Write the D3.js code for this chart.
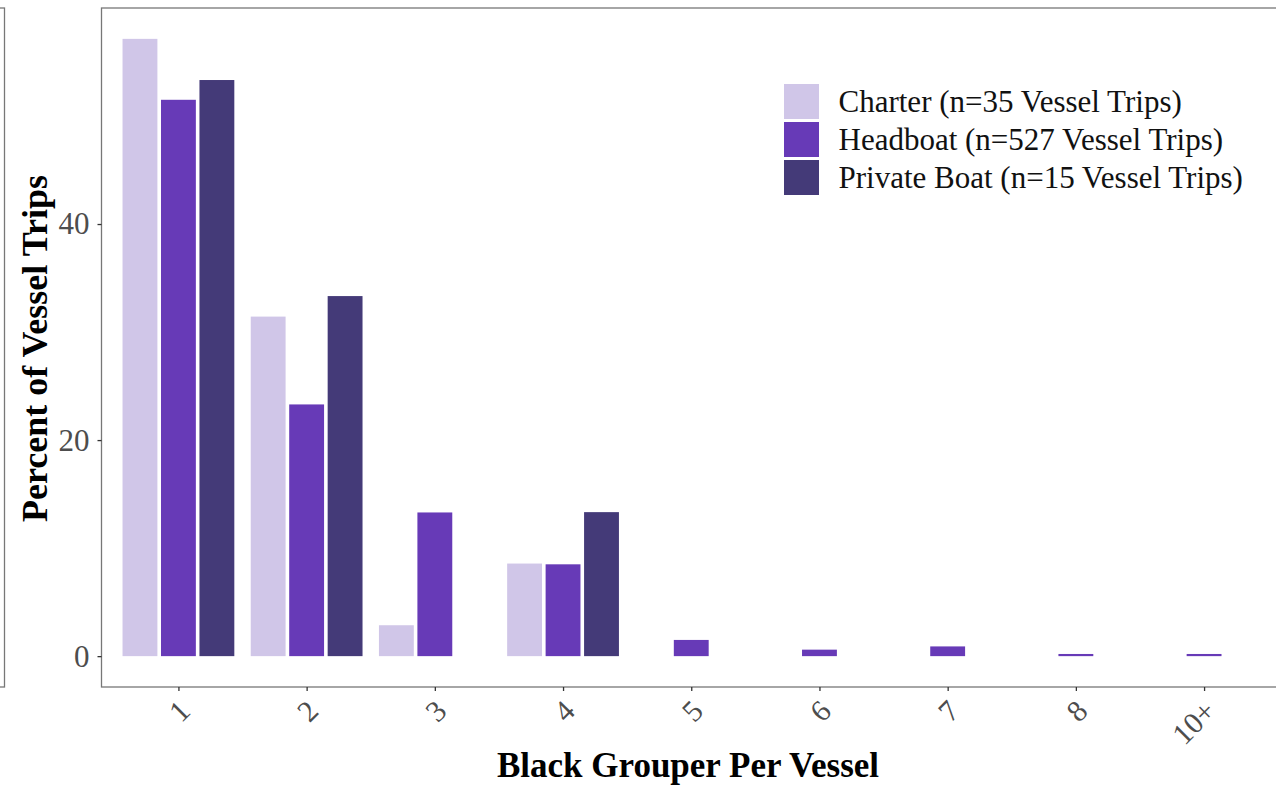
<!DOCTYPE html>
<html>
<head>
<meta charset="utf-8">
<script src="https://cdn.jsdelivr.net/npm/d3@7"></script>
<style>
  body { margin: 0; background: #fff; }
  svg { display: block; font-family: "Liberation Serif", "Times New Roman", serif; }
</style>
</head>
<body>
<div id="chart"></div>
<script>
// fish per vessel, percent of vessel trips by fishing mode
const categories = ['1', '2', '3', '4', '5', '6', '7', '8', '10+'];
const seriesNames = [
  'Charter (n=35 Vessel Trips)',
  'Headboat (n=527 Vessel Trips)',
  'Private Boat (n=15 Vessel Trips)'
];
const charter = [57.14, 31.43, 2.86, 8.57, 0, 0, 0, 0, 0];
const headboat = [51.5, 23.3, 13.3, 8.5, 1.5, 0.6, 0.9, 0.2, 0.2];
const privateBoat = [53.33, 33.33, 0, 13.33, 0, 0, 0, 0, 0];
const yTicks = [0, 20, 40];

const width = 1276
    , height = 786
    , colors = ['#d0c6e8', '#673ab7', '#443a78']
    , panel = { left: 101.5, right: 1281, top: 8, bottom: 687 }
    , serif = 'Liberation Serif'
    ;

const seriesValues = [charter, headboat, privateBoat];
const rows = [];
categories.forEach((c, i) => {
  seriesNames.forEach((s, j) => {
    if (seriesValues[j][i] > 0) rows.push({ cat: c, series: s, value: seriesValues[j][i] });
  });
});

const maxVal = d3.max(rows, d => d.value);

const x = d3.scalePoint()
    .domain(categories)
    .range([panel.left, panel.right])
    .padding(0.6);

const x1 = d3.scaleBand()
    .domain(seriesNames)
    .range([-0.45 * x.step(), 0.45 * x.step()]);

const y = d3.scaleLinear()
    .domain([-0.05 * maxVal, maxVal * 1.05])
    .range([panel.bottom, panel.top]);

const color = d3.scaleOrdinal().domain(seriesNames).range(colors);

const svg = d3.select('#chart')
  .append('svg')
    .attr('width', width)
    .attr('height', height);

// edge of the neighbouring panel at far left
svg.append('rect')
    .attr('x', -100)
    .attr('y', panel.top)
    .attr('width', 104.5)
    .attr('height', panel.bottom - panel.top)
    .attr('fill', 'none')
    .attr('stroke', '#777')
    .attr('stroke-width', 1.3);

// bars
const gap = 1.8;
svg.append('g')
  .selectAll('rect')
  .data(rows)
  .join('rect')
    .attr('x', d => x(d.cat) + x1(d.series) + gap)
    .attr('width', x1.bandwidth() - 2 * gap)
    .attr('y', d => Math.min(y(d.value), y(0) - 1.6))
    .attr('height', d => Math.max(y(0) - y(d.value), 1.6))
    .attr('fill', d => color(d.series));

// panel border
svg.append('rect')
    .attr('x', panel.left)
    .attr('y', panel.top)
    .attr('width', panel.right - panel.left)
    .attr('height', panel.bottom - panel.top)
    .attr('fill', 'none')
    .attr('stroke', '#777')
    .attr('stroke-width', 1.3);

// y axis
const yAxis = svg.append('g')
    .attr('transform', `translate(${panel.left},0)`)
    .call(d3.axisLeft(y).tickValues(yTicks).tickSize(4).tickPadding(8));
yAxis.select('.domain').remove();
yAxis.selectAll('.tick line').attr('stroke', '#333').attr('stroke-width', 1.3);
yAxis.selectAll('.tick text')
    .attr('fill', '#4d4d4d')
    .attr('font-size', 31)
    .attr('font-family', serif);

// x axis
const xAxis = svg.append('g')
    .attr('transform', `translate(0,${panel.bottom})`)
    .call(d3.axisBottom(x).tickSize(4).tickPadding(6));
xAxis.select('.domain').remove();
xAxis.selectAll('.tick line').attr('stroke', '#333').attr('stroke-width', 1.3);
xAxis.selectAll('.tick text')
    .attr('fill', '#4d4d4d')
    .attr('font-size', 30)
    .attr('font-family', serif)
    .attr('text-anchor', 'end')
    .attr('dy', null)
    .attr('y', 0)
    .attr('transform', 'translate(13,26) rotate(-45)');

// axis titles
svg.append('text')
    .attr('x', 688)
    .attr('y', 777)
    .attr('text-anchor', 'middle')
    .attr('font-weight', 'bold')
    .attr('font-size', 35)
    .attr('font-family', serif)
    .text('Black Grouper Per Vessel');

svg.append('text')
    .attr('transform', `translate(47,${(panel.top + panel.bottom) / 2 + 1}) rotate(-90)`)
    .attr('text-anchor', 'middle')
    .attr('font-weight', 'bold')
    .attr('font-size', 36)
    .attr('font-family', serif)
    .text('Percent of Vessel Trips');

// legend
const legend = svg.append('g')
    .attr('transform', 'translate(782.5,82.5)');
const item = legend.selectAll('g')
  .data(seriesNames)
  .join('g')
    .attr('transform', (d, i) => `translate(0,${i * 38})`);
item.append('rect')
    .attr('x', 1.5)
    .attr('y', 1.5)
    .attr('width', 35)
    .attr('height', 35)
    .attr('fill', d => color(d));
item.append('text')
    .attr('x', 56)
    .attr('y', 19)
    .attr('dy', '0.35em')
    .attr('font-size', 31)
    .attr('font-family', serif)
    .attr('fill', '#111')
    .text(d => d);
</script>
</body>
</html>
